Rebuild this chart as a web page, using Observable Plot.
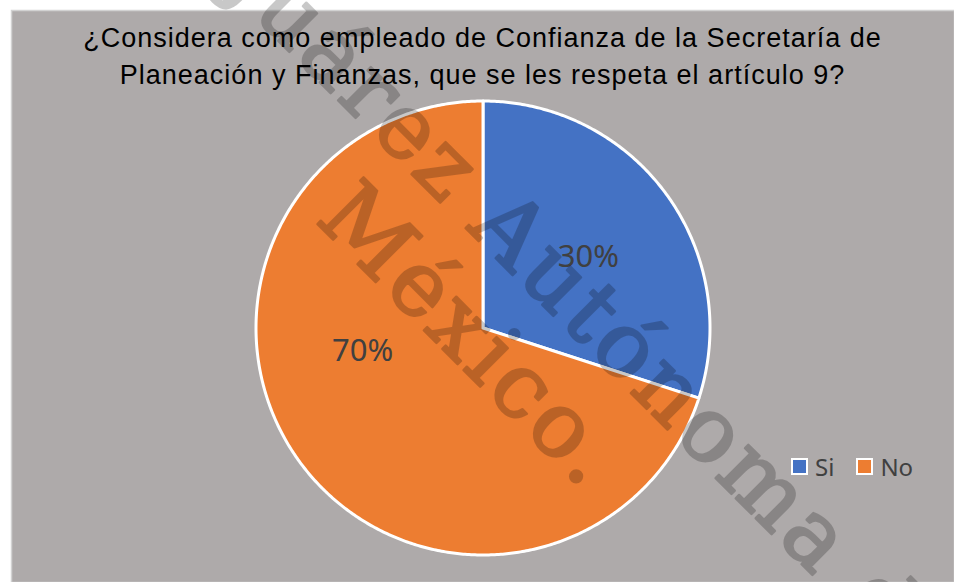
<!DOCTYPE html>
<html><head><meta charset="utf-8">
<script src="https://cdn.jsdelivr.net/npm/d3@7"></script>
<script src="https://cdn.jsdelivr.net/npm/@observablehq/plot@0.6"></script>
<style>
html,body{margin:0;padding:0;background:#fff;}
#wrap{position:relative;width:954px;height:582px;overflow:hidden;background:#fff;}
#chart{position:absolute;left:0;top:0;}
#title{position:absolute;left:11px;right:0;top:20px;text-align:center;font-family:"Liberation Sans",Arial,sans-serif;font-size:27px;line-height:37px;letter-spacing:1px;color:#000;white-space:nowrap;}
#legend{position:absolute;left:791px;top:450px;display:flex;align-items:center;font-family:"Noto Sans",sans-serif;font-size:24px;color:#404040;}
.item{display:flex;align-items:center;margin-right:22px;}
.sw{width:17px;height:17px;box-sizing:border-box;border:2px solid #fff;margin-right:7px;}
#wm{position:absolute;left:0;top:0;pointer-events:none;}
</style>
</head><body>
<div id="wrap">
  <div id="chart"></div>
  <div id="title"></div>
  <div id="legend"></div>
  <svg id="wm" width="954" height="582"></svg>
</div>
<script>
// ---- data ----
const categories = ["Si", "No"];
const values = [30, 70];
const labels = ["30%", "70%"];
const colors = ["#4472C4", "#ED7D31"];
const titleLines = ["¿Considera como empleado de Confianza de la Secretaría de", "Planeación y Finanzas, que se les respeta el artículo 9?"];
const watermarkLines = ["Juárez", "Autónoma de", "México."];

// ---- layout ----
const W = 954, H = 582;
const cx = 482.5, cy = 327.5, R = 227;
const labelPlacement = {Si: {angle: 56, r: 0.56}, No: {angle: 259, r: 0.54}};

const rows = categories.map((c, i) => ({cat: c, value: values[i], label: labels[i]}));
const arcs = d3.pie().sort(null).value(d => d.value)(rows);

const pts = [];
arcs.forEach(s => {
  const k = s.data.cat;
  const n = Math.max(2, Math.ceil((s.endAngle - s.startAngle) / (Math.PI / 360)));
  pts.push({key: k, x: 0, y: 0});
  for (let i = 0; i <= n; i++) {
    const a = s.startAngle + (s.endAngle - s.startAngle) * i / n;
    pts.push({key: k, x: Math.sin(a), y: Math.cos(a)});
  }
  pts.push({key: k, x: 0, y: 0});
});

const labelRows = arcs.map(s => {
  const p = labelPlacement[s.data.cat];
  const a = p.angle * Math.PI / 180;
  return {key: s.data.cat, text: s.data.label, x: p.r * Math.sin(a), y: p.r * Math.cos(a)};
});

const plot = Plot.plot({
  width: W, height: H,
  marginLeft: 11, marginTop: 10, marginRight: 0, marginBottom: 0,
  style: {background: "transparent", overflow: "visible"},
  x: {domain: [-1, 1], range: [cx - R, cx + R], axis: null},
  y: {domain: [-1, 1], range: [cy + R, cy - R], axis: null},
  color: {domain: categories, range: colors},
  marks: [
    Plot.frame({fill: "#AEAAAA", stroke: "#D2D2D2", strokeWidth: 1.5}),
    Plot.line(pts, {x: "x", y: "y", z: "key", fill: "key", stroke: "#fff", strokeWidth: 3, strokeLinejoin: "round", curve: "linear"}),
    Plot.text(labelRows, {x: "x", y: "y", text: "text", fill: "#404040", fontSize: 31, fontFamily: "Noto Sans, sans-serif"})
  ]
});
document.getElementById("chart").appendChild(plot);

document.getElementById("title").innerHTML = titleLines.join("<br>");

const leg = document.getElementById("legend");
categories.forEach((c, i) => {
  const it = document.createElement("div"); it.className = "item";
  const sw = document.createElement("div"); sw.className = "sw"; sw.style.background = colors[i];
  const t = document.createElement("span"); t.textContent = c;
  it.appendChild(sw); it.appendChild(t); leg.appendChild(it);
});

// watermark overlay
const wm = d3.select("#wm").append("g")
  .attr("transform", "rotate(45)")
  .attr("opacity", 0.21)
  .attr("font-family", "DejaVu Serif, serif")
  .attr("font-size", 90)
  .attr("letter-spacing", 4)
  .attr("fill", "#000")
  .attr("stroke", "#000")
  .attr("stroke-width", 2.5)
  .attr("stroke-linejoin", "round");
wm.append("text").attr("x", 462).attr("y", -168).attr("text-anchor", "end").text(watermarkLines[0]);
wm.append("text").attr("x", 491).attr("y", -168).text(watermarkLines[1]);
wm.append("text").attr("x", 378).attr("y", -66).text(watermarkLines[2]);
</script>
</body></html>
